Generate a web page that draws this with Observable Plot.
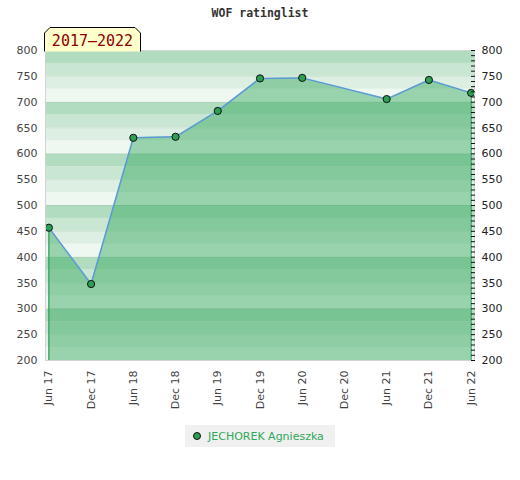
<!DOCTYPE html>
<html>
<head>
<meta charset="utf-8">
<script src="https://cdn.jsdelivr.net/npm/d3@7"></script>
<script src="https://cdn.jsdelivr.net/npm/@observablehq/plot@0.6"></script>
<style>
  body { margin: 0; background: #fff; }
  #wrap { position: relative; width: 520px; height: 480px; }
  #title { position: absolute; top: 6px; left: 0; width: 520px; text-align: center;
           font: bold 11.5px "DejaVu Sans Mono", monospace; color: #333; }
  #tab { position: absolute; left: 44px; top: 27px; }
  #legend { position: absolute; left: 185px; top: 425px; width: 150px; height: 22px;
            background: #f0f0f0; font: 11px "DejaVu Sans", sans-serif; color: #2fa85a;
            display: flex; align-items: center; }
  #legend .dot { width: 6px; height: 6px; border-radius: 50%; background: #2e9e55;
                 border: 1px solid #111; margin: 0 7px 0 8px; }
  #chart { position: absolute; left: 0; top: 0; }
</style>
</head>
<body>
<div id="wrap">
  <div id="chart"></div>
  <div id="title"></div>
  <svg id="tab" width="98" height="25"></svg>
  <div id="legend"><span class="dot"></span><span id="legendText"></span></div>
</div>
<script>
const chartTitle = "WOF ratinglist";
const periodLabel = "2017–2022";
const playerName = "JECHOREK Agnieszka";
const periods = ["Jun 17","Dec 17","Jun 18","Dec 18","Jun 19","Dec 19","Jun 20","Dec 20","Jun 21","Dec 21","Jun 22"];
const ratedPeriods = ["Jun 17","Dec 17","Jun 18","Dec 18","Jun 19","Dec 19","Jun 20","Jun 21","Dec 21","Jun 22"];
const ratings = [457, 348, 631, 633, 683, 746, 747, 706, 743, 718];
const yMin = 200, yMax = 800;
const yLabels = d3.range(yMin, yMax + 1, 50);
const yMinor = d3.range(yMin, yMax + 1, 10);
const bandStep = 25;
const bandShades = ["#eff7f1", "#dcefe2", "#c8e6d2", "#b2dcc0"];

document.getElementById("title").textContent = chartTitle;
document.getElementById("legendText").textContent = playerName;

// tab with cut corners
const tab = d3.select("#tab");
tab.append("path")
  .attr("d", "M0.5,24.5 V6 L6,0.5 H91 L96.5,6 V24.5")
  .attr("fill", "#ffffcc").attr("stroke", "#000");
tab.append("text").attr("x", 48.5).attr("y", 19).attr("text-anchor", "middle")
  .attr("fill", "#8b0000").style("font", "15px 'DejaVu Sans Mono', monospace")
  .text(periodLabel);

const data = ratedPeriods.map((p, i) => ({ x: periods.indexOf(p), y: ratings[i] }));
const bands = d3.range(yMin, yMax, bandStep).map(lo => ({
  lo, hi: lo + bandStep, shade: bandShades[((lo % 100) / bandStep)]
}));
const ends = [data[0], data[data.length - 1]];

const chart = Plot.plot({
  width: 520,
  height: 420,
  marginTop: 50,
  marginBottom: 60,
  marginLeft: 45,
  marginRight: 46,
  style: { fontFamily: "DejaVu Sans, sans-serif", fontSize: "11px", color: "#444", background: "transparent" },
  x: { type: "linear", domain: [-0.08, periods.length - 1 + 0.08] },
  y: { domain: [yMin, yMax] },
  marks: [
    Plot.rectY(bands, { y1: "lo", y2: "hi", fill: "shade" }),
    Plot.ruleY(yLabels, { stroke: "#000", strokeOpacity: 0.05 }),
    Plot.areaY(data, { x: "x", y1: yMin, y2: "y", fill: "#31a75c", fillOpacity: 0.45 }),
    Plot.ruleX(ends, { x: "x", y1: yMin, y2: "y", stroke: "#2ea05a", strokeWidth: 1.2 }),
    Plot.line(data, { x: "x", y: "y", stroke: "#5b9bd5", strokeWidth: 1.5 }),
    Plot.dot(data, { x: "x", y: "y", r: 3.6, fill: "#2e9e55", stroke: "#111", strokeWidth: 1 }),
    Plot.frame({ stroke: "#d3d3d3" }),
    Plot.axisY({ anchor: "left", ticks: yLabels, tickSize: 0, tickPadding: 8, label: null, fill: "#444" }),
    Plot.axisY({ anchor: "right", ticks: yLabels, tickSize: 0, tickPadding: 7, label: null, fill: "#222" }),
    Plot.axisY({ anchor: "right", ticks: yMinor, tickSize: -4, tickFormat: () => "", label: null, stroke: "#111" }),
    Plot.axisX({ ticks: d3.range(periods.length), tickFormat: i => periods[i], tickRotate: -90,
                 tickSize: 0, tickPadding: 10, label: null, fill: "#444" })
  ]
});
document.getElementById("chart").appendChild(chart);
</script>
</body>
</html>
